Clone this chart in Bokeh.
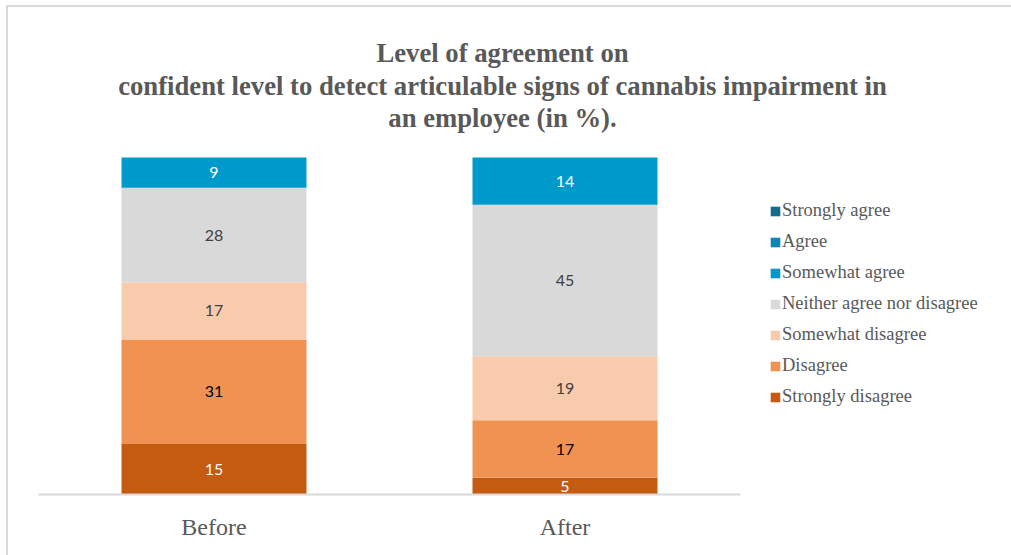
import numpy as np
from bokeh.plotting import figure
from bokeh.models import (ColumnDataSource, Legend, LegendItem, Label, Range1d,
                          FixedTicker)
from bokeh.core.properties import value
from bokeh.embed import file_html
from bokeh.resources import INLINE

# ---- data ----
groups = ["Before", "After"]
levels = ["Strongly disagree", "Disagree", "Somewhat disagree",
          "Neither agree nor disagree", "Somewhat agree", "Agree", "Strongly agree"]
strongly_disagree = [15, 5]
disagree = [31, 17]
somewhat_disagree = [17, 19]
neither = [28, 45]
somewhat_agree = [9, 14]
agree = [0, 0]
strongly_agree = [0, 0]
title_lines = ["Level of agreement on",
               "confident level to detect articulable signs of cannabis impairment in",
               "an employee (in %)."]

colors = ["#C55A11", "#F09352", "#F8CBAD", "#D9D9D9", "#0099CC", "#0E86B3", "#156B8C"]
label_colors = ["white", "black", "#404040", "#404040", "white", "white", "white"]

series = [strongly_disagree, disagree, somewhat_disagree, neither,
          somewhat_agree, agree, strongly_agree]
keys = ["s0", "s1", "s2", "s3", "s4", "s5", "s6"]
xpos = np.arange(len(groups)) + 0.5
data = {"x": xpos}
for k, s in zip(keys, series):
    data[k] = s
src = ColumnDataSource(data)

# whole canvas 1011x555; frame: x 38..1011, y 0..494 ; 351 px per category, 3.37 px per %
p = figure(x_range=Range1d(0, 973 / 351), y_range=Range1d(0, 494 / 3.37),
           width=1011, height=555, output_backend="svg", toolbar_location=None,
           min_border_left=38, min_border_right=0, min_border_top=0,
           min_border_bottom=61,
           styles={"box-shadow": "inset 6px 5px 0px 0px white, inset 8px 7px 0px 0px #D9D9D9"})
p.outline_line_color = None
p.xgrid.visible = False
p.ygrid.visible = False
p.yaxis.visible = False
p.background_fill_color = None
p.border_fill_color = None

rs = p.vbar_stack(keys, x="x", width=0.527, source=src, color=colors, line_color=None)

# value labels
arr = np.array(series, dtype=float)
cum = np.cumsum(arr, axis=0)
mids = cum - arr / 2.0
lx, ly, lt, lc = [], [], [], []
for i in range(len(series)):
    for j in range(len(groups)):
        if arr[i, j] > 0:
            lx.append(xpos[j]); ly.append(mids[i, j]); lt.append(str(int(arr[i, j]))); lc.append(label_colors[i])
p.text(x=lx, y=ly, text=lt, text_color=lc, text_align="center", text_baseline="middle",
       text_font=value("Lato"), text_font_size="16px")

# axis
ax = p.xaxis[0]
ax.ticker = FixedTicker(ticks=list(xpos))
ax.major_label_overrides = {float(x): g for x, g in zip(xpos, groups)}
ax.bounds = (0, len(groups))
ax.axis_line_color = "#D9D9D9"
ax.axis_line_width = 2
ax.major_tick_line_color = None
ax.minor_tick_line_color = None
ax.major_label_text_font = "Liberation Serif"
ax.major_label_text_font_size = "24px"
ax.major_label_text_color = "#595959"
ax.major_label_standoff = 13

# legend
items = [LegendItem(label=lev, renderers=[r]) for lev, r in zip(levels, rs)][::-1]
legend = Legend(items=items, location=(731, 87), orientation="vertical",
                glyph_width=12, glyph_height=12, label_standoff=1, spacing=10,
                label_height=21, padding=0, margin=0, border_line_color=None,
                background_fill_alpha=0, label_text_font="Liberation Serif",
                label_text_font_size="18.5px", label_text_color="#595959")
p.add_layout(legend, "center")

# title lines
for txt, yy in zip(title_lines, [442, 409, 377]):
    p.add_layout(Label(x=464, y=yy, x_units="screen", y_units="screen", text=txt,
                       text_align="center", text_baseline="middle",
                       text_font="Liberation Serif", text_font_style="bold",
                       text_font_size="26.7px", text_color="#595959"))

open("out.html", "w").write(file_html(p, INLINE))
